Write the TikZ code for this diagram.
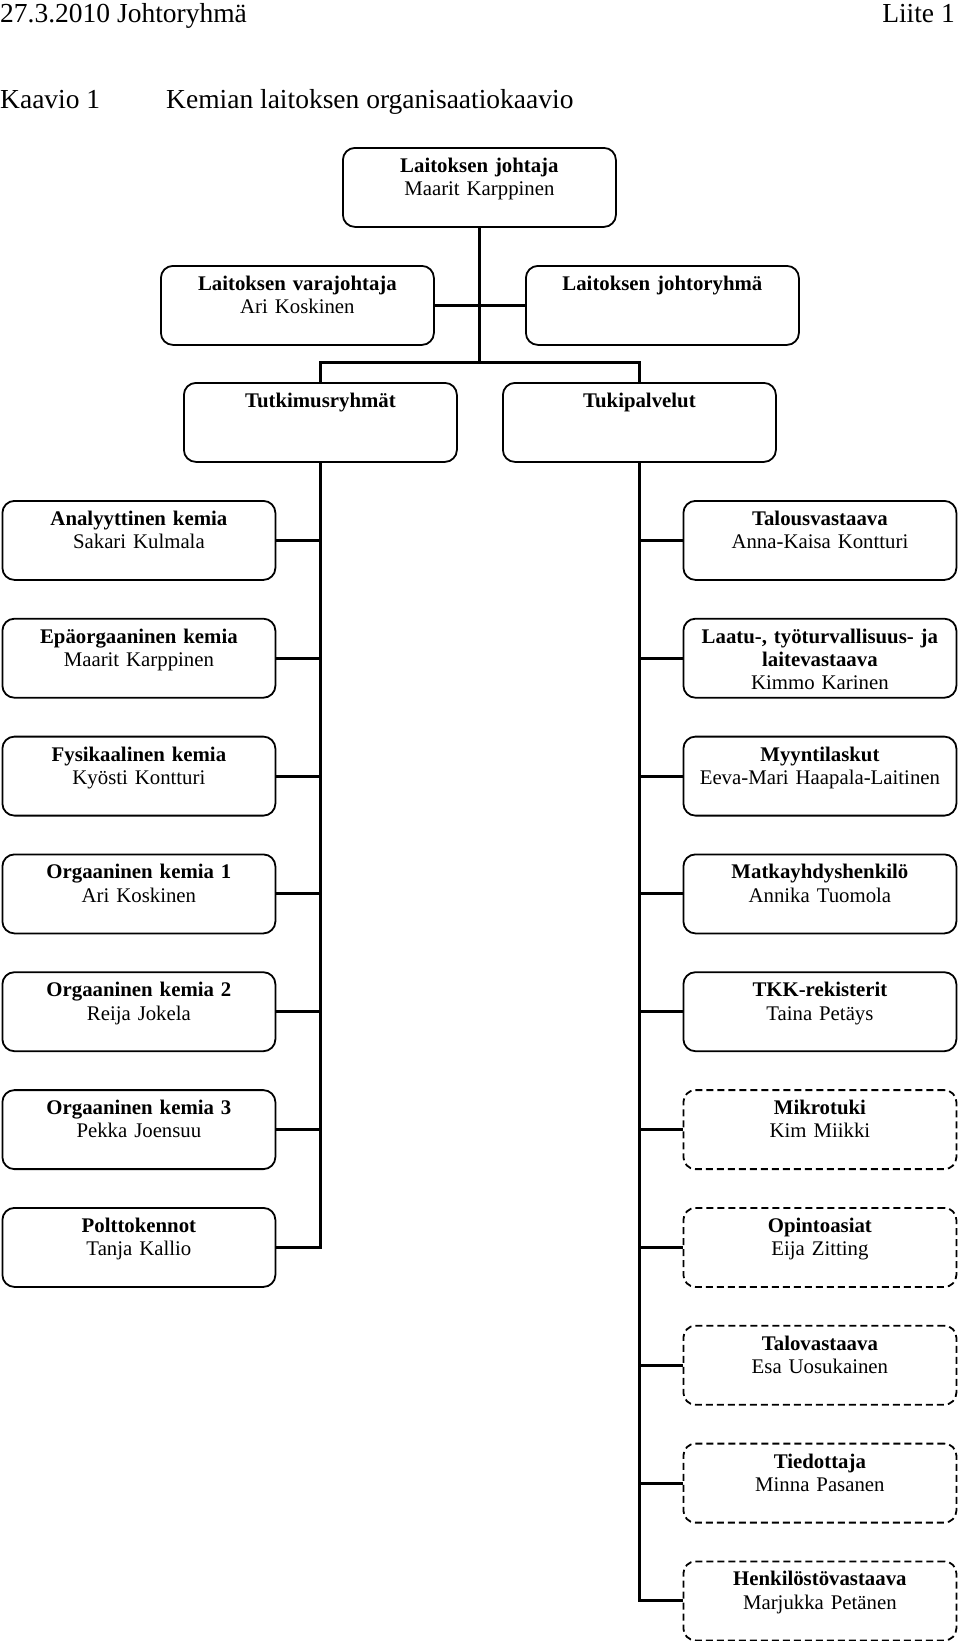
\documentclass[tikz,border=0pt]{standalone}
\usepackage{fontspec}
\setmainfont{Liberation Serif}
\newcommand\boxfont{\fontsize{20.8}{23.3}\selectfont}
\newcommand\hdrfont{\fontsize{27.5}{32}\selectfont}
\begin{document}
\begin{tikzpicture}[x=1pt,y=-1pt,
  box/.style={draw, line width=1.8pt, rounded corners=12pt, anchor=north west,
    inner sep=0pt, text width=273pt, align=center, text height=24.5pt,
    text depth=54.5pt, font=\boxfont},
  dbox/.style={box, dash pattern=on 7pt off 4pt},
  conn/.style={line width=3pt, line join=miter},
  hdr/.style={anchor=base west, inner sep=0pt, font=\hdrfont}]
\useasboundingbox (0,0) rectangle (960,1641);

% header
\node[hdr] (date) at (0,22.5) {27.3.2010 Johtoryhmä};
\node[hdr, anchor=base east] (liite) at (955,22.5) {Liite 1};
\node[hdr] (kaavio) at (0,108) {Kaavio 1};
\node[hdr] (title) at (166,108) {Kemian laitoksen organisaatiokaavio};

% management
\node[box] (top) at (342,147) {\textbf{Laitoksen johtaja}\\Maarit Karppinen};
\node[box] (vara) at (160,265) {\textbf{Laitoksen varajohtaja}\\Ari Koskinen};
\node[box] (jr) at (525,265) {\textbf{Laitoksen johtoryhmä}};
\node[box] (tut) at (183,382) {\textbf{Tutkimusryhmät}};
\node[box] (tuk) at (502,382) {\textbf{Tukipalvelut}};

% left column
\node[box] (l1) at (1.5,500)    {\textbf{Analyyttinen kemia}\\Sakari Kulmala};
\node[box] (l2) at (1.5,617.8)  {\textbf{Epäorgaaninen kemia}\\Maarit Karppinen};
\node[box] (l3) at (1.5,735.7)  {\textbf{Fysikaalinen kemia}\\Kyösti Kontturi};
\node[box] (l4) at (1.5,853.5)  {\textbf{Orgaaninen kemia 1}\\Ari Koskinen};
\node[box] (l5) at (1.5,971.3)  {\textbf{Orgaaninen kemia 2}\\Reija Jokela};
\node[box] (l6) at (1.5,1089.2) {\textbf{Orgaaninen kemia 3}\\Pekka Joensuu};
\node[box] (l7) at (1.5,1207)   {\textbf{Polttokennot}\\Tanja Kallio};

% right column
\node[box] (r1) at (682.5,500)    {\textbf{Talousvastaava}\\Anna-Kaisa Kontturi};
\node[box] (r2) at (682.5,617.8)  {\textbf{Laatu-, työturvallisuus- ja}\\\textbf{laitevastaava}\\Kimmo Karinen};
\node[box] (r3) at (682.5,735.7)  {\textbf{Myyntilaskut}\\Eeva-Mari Haapala-Laitinen};
\node[box] (r4) at (682.5,853.5)  {\textbf{Matkayhdyshenkilö}\\Annika Tuomola};
\node[box] (r5) at (682.5,971.3)  {\textbf{TKK-rekisterit}\\Taina Petäys};
\node[dbox] (r6) at (682.5,1089.2) {\textbf{Mikrotuki}\\Kim Miikki};
\node[dbox] (r7) at (682.5,1207)   {\textbf{Opintoasiat}\\Eija Zitting};
\node[dbox] (r8) at (682.5,1324.8) {\textbf{Talovastaava}\\Esa Uosukainen};
\node[dbox] (r9) at (682.5,1442.7) {\textbf{Tiedottaja}\\Minna Pasanen};
\node[dbox] (r10) at (682.5,1560.5) {\textbf{Henkilöstövastaava}\\Marjukka Petänen};

% connectors
\coordinate (bar) at (0,362);
\draw[conn] (top.south) -- (top.south |- bar);
\draw[conn] (tut.north) |- (top.south |- bar) -| (tuk.north);
\draw[conn] (vara.east) -- (jr.west);

\draw[conn] (tut.south) |- (l7.east);
\foreach \n in {l1,l2,l3,l4,l5,l6}
  \draw[conn] (\n.east) -- (\n.east -| tut.south);

\draw[conn] (tuk.south) |- (r10.west);
\foreach \n in {r1,r2,r3,r4,r5,r6,r7,r8,r9}
  \draw[conn] (\n.west) -- (\n.west -| tuk.south);
\end{tikzpicture}
\end{document}
